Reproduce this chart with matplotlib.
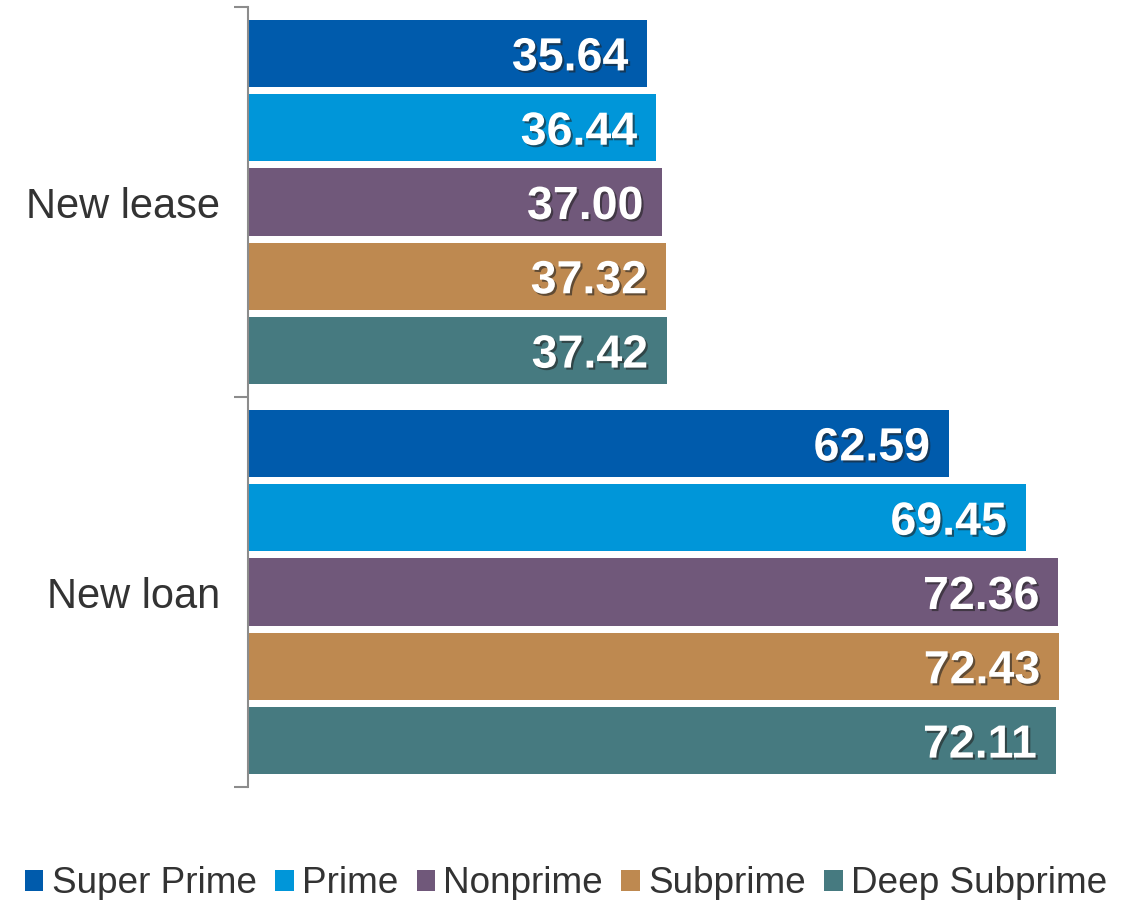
import numpy as np
import matplotlib.pyplot as plt
import matplotlib.patheffects as pe

plt.rcParams['font.family'] = ['Liberation Sans', 'DejaVu Sans']

categories = ['New lease', 'New loan']
series = ['Super Prime', 'Prime', 'Nonprime', 'Subprime', 'Deep Subprime']
values = {
    'Super Prime': [35.64, 62.59],
    'Prime': [36.44, 69.45],
    'Nonprime': [37.00, 72.36],
    'Subprime': [37.32, 72.43],
    'Deep Subprime': [37.42, 72.11],
}
colors = ['#005BAC', '#0096D9', '#70587A', '#BE8950', '#467A80']

fig = plt.figure(figsize=(11.32, 9.0), dpi=100)
ax = fig.add_axes([248 / 1132, 113 / 900, 882 / 1132, 780 / 900])

pitch = 0.1905
height = 0.172
y = np.arange(len(categories))
shadow = [pe.SimplePatchShadow(offset=(1.5, -1.5), shadow_rgbFace='#222222', alpha=0.6),
          pe.Normal()]

for i, name in enumerate(series):
    pos = y + (i - 2) * pitch
    bars = ax.barh(pos, values[name], height=height, color=colors[i], label=name)
    for b, v in zip(bars, values[name]):
        ax.text(b.get_width() - 1.7, b.get_y() + b.get_height() / 2, f'{v:.2f}',
                ha='right', va='center_baseline', color='white', fontsize=33.5,
                fontweight='bold', path_effects=shadow)

ax.set_xlim(0, 882 / 11.2)
ax.set_ylim(1.5, -0.5)

for s in ['top', 'right', 'bottom']:
    ax.spines[s].set_visible(False)
ax.spines['left'].set_color('#8c8c8c')
ax.spines['left'].set_linewidth(1.5)
ax.set_xticks([])

# category labels sit between the bracket ticks
ax.set_yticks(y)
ax.set_yticklabels(categories, fontsize=30, color='#333333')
ax.tick_params(axis='y', which='major', length=0, pad=20)
ax.set_yticks([-0.5, 0.5, 1.5], minor=True)
ax.tick_params(axis='y', which='minor', length=10, width=1.5, color='#8c8c8c')

fig.legend(loc='center', bbox_to_anchor=(0.5, 0.018),
           ncol=5, frameon=False, fontsize=26.6, handlelength=0.5, handleheight=0.5,
           handletextpad=0.22, columnspacing=0.5, labelcolor='#333333')

fig.savefig('out.png', dpi=100)
